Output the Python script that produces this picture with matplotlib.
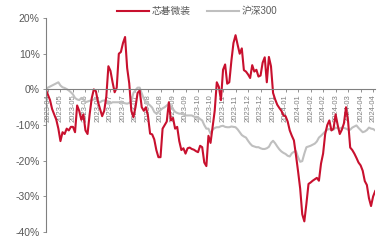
import numpy as np
import matplotlib
matplotlib.use("Agg")
from matplotlib import pyplot as plt

plt.rcParams['font.family'] = ['Liberation Sans', 'Noto Sans CJK SC', 'DejaVu Sans']

# relative return, %
chip = [0, -1.5, -3, -5.5, -7, -8.5, -11, -14.5, -12, -12.5,
        -11, -11.5, -10.5, -10.5, -12, -4.5, -6, -8.5, -7, -11.5,
        -12.5, -7, -2.5, 0, -0.5, -3.5, -5.5, -7.5, -6, -2,
        6.5, 5.2, 2, -0.8, 0.5, 10, 10.5, 13, 14.7, 6,
        1.7, -6, -7.8, -5, -1, -0.3, -5, -6, -5, -7.5,
        -12.4, -12.6, -14, -17, -19, -19, -11, -10, -9, -3.6,
        -8.7, -8, -11, -10.5, -14.5, -17, -16.5, -18, -16.5, -16.3,
        -16.7, -16.9, -17.3, -17.6, -15.8, -16.2, -20.5, -21.5, -13, -15,
        -10.6, -6, 2, 0.7, -3, 5.5, 7, 1.6, 2, 8,
        13, 15.2, 12.5, 10, 11.5, 5.4, 5, 4.2, 3.2, 6.8,
        5, 5.5, 3.6, 3.9, 7.5, 9, 2, 9.1, 6.5, -1,
        -2.8, -4.3, -5.2, -6, -7.3, -7.5, -9, -11.5, -13, -14.3,
        -18.5, -23, -27.8, -35, -37, -32, -26.5, -26.1, -25.6, -25.2,
        -24.8, -25.6, -20.8, -18, -12.5, -10, -8.7, -11.5, -11, -7,
        -10, -12.5, -11.3, -9.5, -5, -9, -16.3, -17, -18, -19.2,
        -20.5, -21.3, -22.8, -25.7, -26.8, -30.5, -32.7, -30, -28.5]

hs300 = [0.2, 0.5, 0.8, 1.1, 1.4, 1.7, 2, 1.1, 0.6, 0.4,
         0.1, -0.3, -0.8, -1.4, -2.4, -2.8, -3, -2.4, -2.7, -3.6,
         -3.4, -3.2, -3, -2.8, -2.6, -3.3, -3.6, -3.2, -3.1, -3.1,
         -3.8, -3.9, -3.6, -3.6, -3.6, -3.6, -3.6, -3.7, -3.9, -4,
         -3.8, -3.2, -1, -0.2, 0.5, 0.5, -1.1, -2.6, -3.7, -4,
         -4.5, -5.1, -6.3, -6.8, -6.3, -5.8, -5.3, -5, -4.5, -4,
         -4.7, -5.5, -6.3, -6.6, -6.8, -6.8, -7, -7.3, -7.3, -7.3,
         -7.3, -7.6, -7.8, -7.8, -8.3, -8.7, -10, -11, -11, -12.4,
         -11.3, -10.8, -10.6, -10.6, -10.3, -10.2, -10.5, -10.6, -10.6, -10.4,
         -10.5, -10.6, -11.2, -12, -12.8, -13.2, -13.5, -14.4, -15.2, -15.8,
         -16, -16.2, -16.2, -16.5, -16.7, -16.7, -16.5, -16.1, -15, -14.4,
         -15.1, -16, -16.8, -17.4, -17.8, -18.1, -18.6, -18.8, -17.9, -17.5,
         -17.3, -19, -20.3, -20.1, -18, -16.2, -16, -15.8, -15.5, -15.2,
         -14.6, -13.5, -13, -12.4, -11.8, -11.3, -11.1, -11.4, -11.3, -10.7,
         -10.9, -11, -10.7, -10.8, -11, -11.3, -11.3, -10.7, -10.4, -10.1,
         -10.8, -11.4, -12, -11.8, -11.4, -10.7, -11, -11.1, -11.5]

date_labels = ['2023-04', '2023-05', '2023-05', '2023-06', '2023-06', '2023-07',
               '2023-07', '2023-07', '2023-08', '2023-08', '2023-09', '2023-09',
               '2023-10', '2023-10', '2023-11', '2023-11', '2023-12', '2023-12',
               '2024-01', '2024-01', '2024-01', '2024-02', '2024-02', '2024-03',
               '2024-03', '2024-04', '2024-04']

x = np.arange(len(chip))
tick_pos = 1 + 6 * np.arange(len(date_labels))

fig = plt.figure(figsize=(3.79, 2.41), dpi=100)
ax = fig.add_axes([0.121, 0.037, 0.869, 0.888])

ax.plot(x, hs300, color='#BFBFBF', lw=1.5, label='沪深300')
ax.plot(x, chip, color='#C8102E', lw=1.5, label='芯碁微装')

ax.set_xlim(0, len(chip) - 1)
ax.set_ylim(-40, 20)
ax.set_yticks([20, 10, 0, -10, -20, -30, -40])
ax.set_yticklabels(['20%', '10%', '0%', '-10%', '-20%', '-30%', '-40%'])

ax.spines['top'].set_visible(False)
ax.spines['right'].set_visible(False)
ax.spines['bottom'].set_position(('data', 0))
ax.spines['bottom'].set_color('#808080')
ax.spines['left'].set_color('#808080')
ax.spines['bottom'].set_linewidth(0.8)
ax.spines['left'].set_linewidth(0.8)

ax.set_xticks(tick_pos)
ax.set_xticklabels(date_labels, rotation=90)
ax.tick_params(axis='x', direction='out', length=2.5, width=0.6, color='#808080',
               labelsize=5.5, labelcolor='#808080', pad=1)
ax.tick_params(axis='y', direction='out', length=2.5, width=0.6, color='#808080',
               labelsize=7.5, labelcolor='#595959', pad=2)

h, l = ax.get_legend_handles_labels()
fig.legend(h[::-1], l[::-1], loc='upper center', bbox_to_anchor=(0.52, 1.01), ncol=2,
           frameon=False, fontsize=7, handlelength=3.3, columnspacing=1.6,
           handletextpad=0.3, labelcolor='#595959')

fig.savefig('out.png', dpi=100)
